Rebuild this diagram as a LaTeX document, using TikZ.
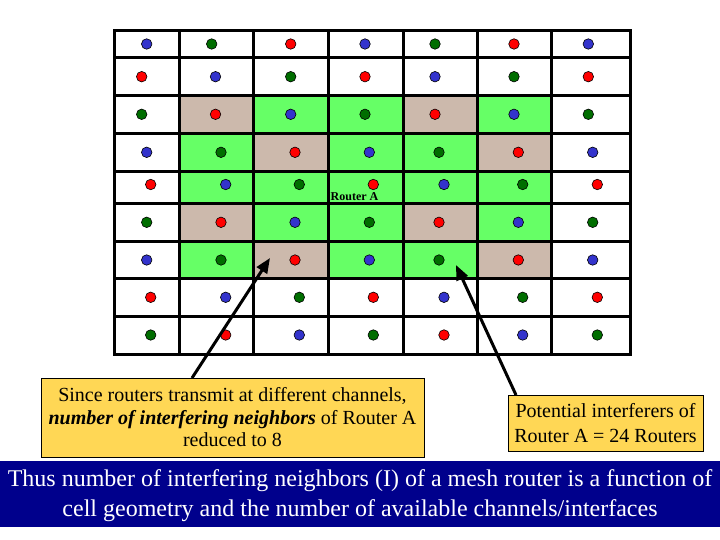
\documentclass[tikz,border=0pt]{standalone}
\usepackage{fontspec}
\setmainfont{Liberation Serif}
\usetikzlibrary{arrows.meta,calc}
\definecolor{cellgreen}{RGB}{102,255,102}
\definecolor{celltan}{RGB}{204,185,172}
\definecolor{dc0}{RGB}{51,51,204}
\definecolor{dc1}{RGB}{0,110,0}
\definecolor{dc2}{RGB}{255,0,0}
\definecolor{boxyellow}{RGB}{255,215,85}
\definecolor{bannerblue}{RGB}{0,0,140}
\newcommand\dotrow[3]{%
  \foreach \xx [count=\i from 0] in {#3}{%
    \pgfmathtruncatemacro\k{mod(\i-#2+9,3)}%
    \node[router,fill=dc\k] (d#2-\i) at (\xx,#1) {};}}
\begin{document}
\begin{tikzpicture}[x=1pt,y=-1pt,
  gridline/.style={line width=3pt,black},
  router/.style={circle,draw=black,line width=0.6pt,inner sep=0pt,minimum size=10.5pt},
  infobox/.style={draw=black,line width=0.6pt,fill=boxyellow,align=center,inner sep=0pt},
  pointer/.style={line width=3pt,-{Triangle[length=15pt,width=12pt]}}]
\useasboundingbox (0,0) rectangle (720,540);
\fill[white] (0,0) rectangle (720,540);
% cell fills
\fill[cellgreen] (179,96) rectangle (551,278);
\foreach \xa/\ya/\xb/\yb in {179/96/253/134,403/96/477/134,253/134/328/172,477/134/551/172,
  179/204/253/241,403/204/477/241,253/241/328/278,477/241/551/278}
  \fill[celltan] (\xa,\ya) rectangle (\xb,\yb);
% grid
\foreach \x in {179,253,328,403,477,551} \draw[gridline] (\x,31) -- (\x,354);
\foreach \y in {58,96,134,172,204,241,278,316} \draw[gridline] (114,\y) -- (630,\y);
\draw[gridline] (114,31) rectangle (630,354);
% routers
\dotrow{44}{0}{146.7,211.7,290.7,365,435,514,588.3}
\dotrow{76.7}{1}{141.7,215.5,290.7,365,435,514,588.3}
\dotrow{114.3}{2}{141.7,215.5,290.7,365,435,514,588.3}
\dotrow{152.3}{3}{146.7,221,295,369.3,439,518.3,592.7}
\dotrow{184.5}{4}{150.7,225.7,299.3,373.3,444,522.7,597.3}
\dotrow{222.3}{5}{146.7,221,295,369.3,439,518.3,592.7}
\dotrow{260}{6}{146.7,221,295,369.3,439,518.3,592.7}
\dotrow{297.3}{7}{150.7,225.7,299.3,373.3,444,522.7,597.3}
\dotrow{335}{8}{150.7,225.7,299.3,373.3,444,522.7,597.3}
\node[anchor=base,font=\fontsize{12}{14}\selectfont\bfseries,inner sep=0pt] (ra) at (354.5,200.7) {Router A};
% boxes
\node[infobox,minimum width=383pt,minimum height=79pt,font=\fontsize{20}{22.5}\selectfont] (lbox) at (232.5,417.5)
  {Since routers transmit at different channels,\\ \textbf{\textit{number of interfering neighbors}} of Router A\\ reduced to 8};
\node[infobox,minimum width=195pt,minimum height=56pt,font=\fontsize{20}{25}\selectfont] (rbox) at (605.5,423)
  {Potential interferers of\\ Router A = 24 Routers};
\fill[bannerblue] (0,461) rectangle (720,527);
\node[text=white,align=center,inner sep=0pt,font=\fontsize{24}{30}\selectfont] (ban) at (360,496)
  {Thus number of interfering neighbors (I) of a mesh router is a function of\\ cell geometry and the number of available channels/interfaces};
% arrows
\coordinate (t1) at (192,378);
\coordinate (h1) at (270,258);
\coordinate (t2) at (516,395);
\coordinate (h2) at (456,265);
\draw[pointer] (t1) -- (h1);
\draw[pointer] (t2) -- (h2);
\end{tikzpicture}
\end{document}
